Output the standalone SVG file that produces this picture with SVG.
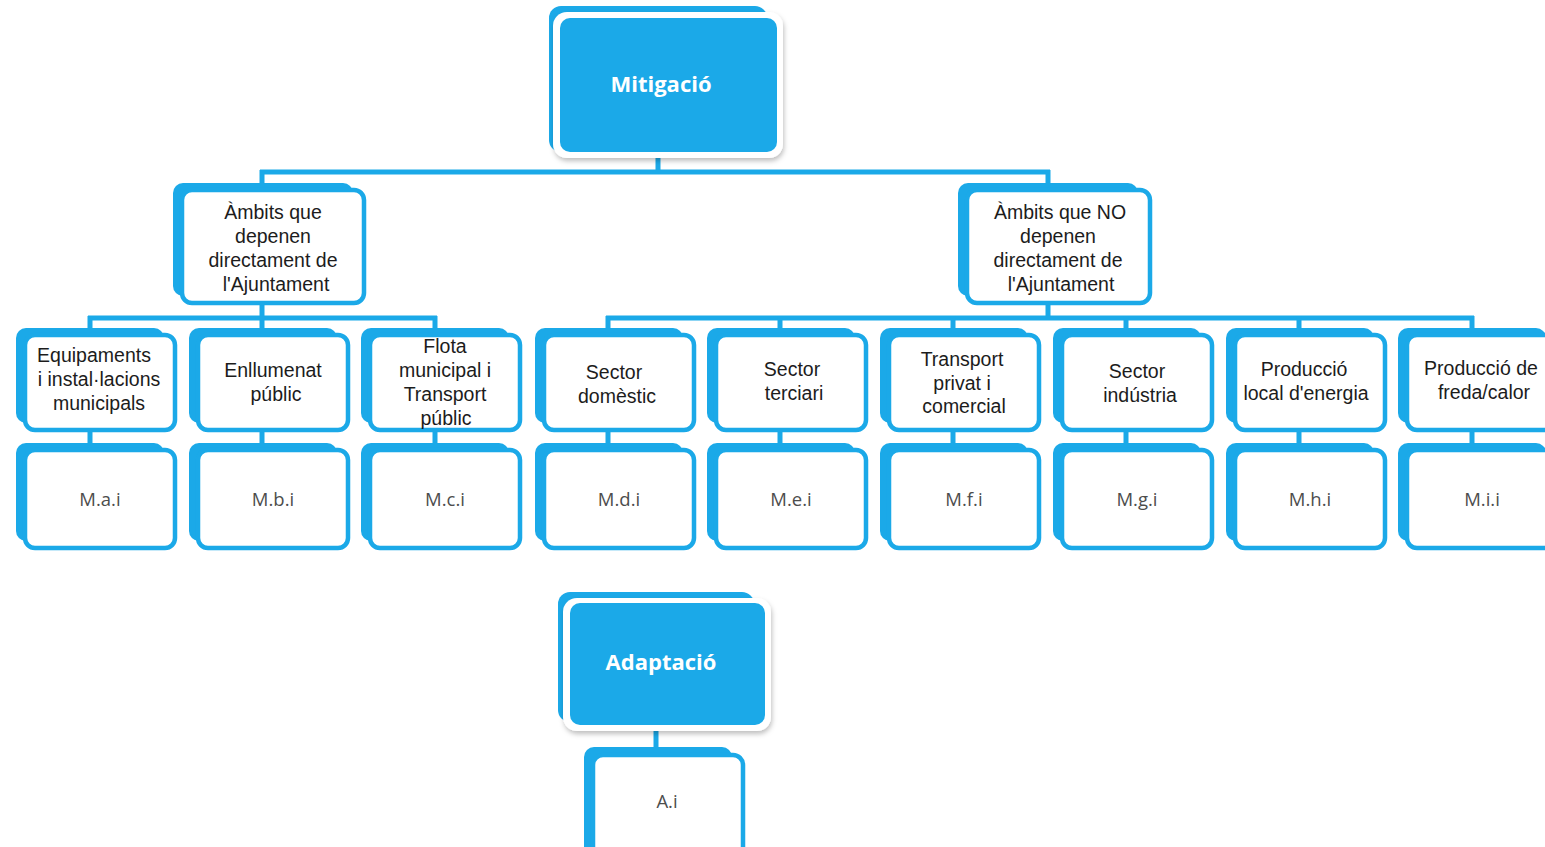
<svg xmlns="http://www.w3.org/2000/svg" width="1545" height="847" viewBox="0 0 1545 847">
<defs>
<filter id="sh" x="-10%" y="-10%" width="120%" height="125%">
<feDropShadow dx="1" dy="3" stdDeviation="2.5" flood-color="#000" flood-opacity="0.25"/>
</filter>
<style>
.back{fill:#1ba9e8}
.front{fill:#fff;stroke:#1ba9e8;stroke-width:4.5}
.root{fill:#1ba9e8}
.rootb{fill:#fff;filter:url(#sh)}
.lbl{font-family:"Liberation Sans",Arial,sans-serif;font-size:19.5px;fill:#1c1c1c;text-anchor:middle}
.code{font-family:"Open Sans","Noto Sans",sans-serif;font-size:18.5px;fill:#4d4d4d;text-anchor:middle}
.title{font-family:"Open Sans","Noto Sans",sans-serif;font-size:22px;font-weight:bold;fill:#fff;text-anchor:middle}
.con{stroke:#1ba9e8;stroke-width:5;fill:none}
</style>
</defs>
<rect width="1545" height="847" fill="#fff"/>

<g id="connectors" class="con">
<path d="M658 158V172M260 172H1050M262 170V185M1048 170V185"/>
<path d="M262 303V318M88 318H437M1048 303V318M606 318H1474"/>
<path d="M90 316V330M262 316V330M435 316V330M608 316V330M780 316V330M953 316V330M1126 316V330M1299 316V330M1472 316V330"/>
<path d="M90 430V445M262 430V445M435 430V445M608 430V445M780 430V445M953 430V445M1126 430V445M1299 430V445M1472 430V445"/>
<path d="M656 730V749"/>
</g>

<g id="mitigacio">
<rect class="back" x="549" y="6" width="218" height="146" rx="12"/>
<rect class="rootb" x="553" y="12" width="230" height="146" rx="14"/>
<rect class="root" x="560" y="18" width="217" height="134" rx="10"/>
<text class="title" x="661" y="92">Mitigació</text>
</g>

<g id="ambits-dep">
<rect class="back" x="173" y="183" width="180" height="113" rx="10"/>
<rect class="front" x="182" y="190" width="182" height="113" rx="10"/>
<text class="lbl"><tspan x="273" y="219">Àmbits que</tspan><tspan x="273" y="243">depenen</tspan><tspan x="273" y="267">directament de</tspan><tspan x="276" y="291">l'Ajuntament</tspan></text>
</g>

<g id="ambits-nodep">
<rect class="back" x="958" y="183" width="180" height="113" rx="10"/>
<rect class="front" x="967" y="190" width="183" height="113" rx="10"/>
<text class="lbl"><tspan x="1060" y="219">Àmbits que NO</tspan><tspan x="1058" y="243">depenen</tspan><tspan x="1058" y="267">directament de</tspan><tspan x="1061" y="291">l'Ajuntament</tspan></text>
</g>

<g id="cat-a">
<rect class="back" x="16" y="328" width="148" height="95" rx="10"/>
<rect class="front" x="25" y="335" width="150" height="95" rx="10"/>
<text class="lbl"><tspan x="94" y="362">Equipaments</tspan><tspan x="99" y="386">i instal·lacions</tspan><tspan x="99" y="410">municipals</tspan></text>
</g>
<g id="cat-b">
<rect class="back" x="189" y="328" width="148" height="95" rx="10"/>
<rect class="front" x="198" y="335" width="150" height="95" rx="10"/>
<text class="lbl"><tspan x="273" y="377">Enllumenat</tspan><tspan x="276" y="401">públic</tspan></text>
</g>
<g id="cat-c">
<rect class="back" x="361" y="328" width="148" height="95" rx="10"/>
<rect class="front" x="370" y="335" width="150" height="95" rx="10"/>
<text class="lbl"><tspan x="445" y="353">Flota</tspan><tspan x="445" y="377">municipal i</tspan><tspan x="445" y="401">Transport</tspan><tspan x="446" y="425">públic</tspan></text>
</g>
<g id="cat-d">
<rect class="back" x="535" y="328" width="148" height="95" rx="10"/>
<rect class="front" x="544" y="335" width="150" height="95" rx="10"/>
<text class="lbl"><tspan x="614" y="379">Sector</tspan><tspan x="617" y="403">domèstic</tspan></text>
</g>
<g id="cat-e">
<rect class="back" x="707" y="328" width="148" height="95" rx="10"/>
<rect class="front" x="716" y="335" width="150" height="95" rx="10"/>
<text class="lbl"><tspan x="792" y="376">Sector</tspan><tspan x="794" y="400">terciari</tspan></text>
</g>
<g id="cat-f">
<rect class="back" x="880" y="328" width="148" height="95" rx="10"/>
<rect class="front" x="889" y="335" width="150" height="95" rx="10"/>
<text class="lbl"><tspan x="962" y="366">Transport</tspan><tspan x="962" y="390">privat i</tspan><tspan x="964" y="413">comercial</tspan></text>
</g>
<g id="cat-g">
<rect class="back" x="1053" y="328" width="148" height="95" rx="10"/>
<rect class="front" x="1062" y="335" width="150" height="95" rx="10"/>
<text class="lbl"><tspan x="1137" y="378">Sector</tspan><tspan x="1140" y="402">indústria</tspan></text>
</g>
<g id="cat-h">
<rect class="back" x="1226" y="328" width="148" height="95" rx="10"/>
<rect class="front" x="1235" y="335" width="150" height="95" rx="10"/>
<text class="lbl"><tspan x="1304" y="376">Producció</tspan><tspan x="1306" y="400">local d'energia</tspan></text>
</g>
<g id="cat-i">
<rect class="back" x="1398" y="328" width="148" height="95" rx="10"/>
<rect class="front" x="1407" y="335" width="150" height="95" rx="10"/>
<text class="lbl"><tspan x="1481" y="375">Producció de</tspan><tspan x="1484" y="399">freda/calor</tspan></text>
</g>

<g id="m-a">
<rect class="back" x="16" y="443" width="148" height="98" rx="10"/>
<rect class="front" x="25" y="450" width="150" height="98" rx="10"/>
<text class="code" x="100" y="506">M.a.i</text>
</g>
<g id="m-b">
<rect class="back" x="189" y="443" width="148" height="98" rx="10"/>
<rect class="front" x="198" y="450" width="150" height="98" rx="10"/>
<text class="code" x="273" y="506">M.b.i</text>
</g>
<g id="m-c">
<rect class="back" x="361" y="443" width="148" height="98" rx="10"/>
<rect class="front" x="370" y="450" width="150" height="98" rx="10"/>
<text class="code" x="445" y="506">M.c.i</text>
</g>
<g id="m-d">
<rect class="back" x="535" y="443" width="148" height="98" rx="10"/>
<rect class="front" x="544" y="450" width="150" height="98" rx="10"/>
<text class="code" x="619" y="506">M.d.i</text>
</g>
<g id="m-e">
<rect class="back" x="707" y="443" width="148" height="98" rx="10"/>
<rect class="front" x="716" y="450" width="150" height="98" rx="10"/>
<text class="code" x="791" y="506">M.e.i</text>
</g>
<g id="m-f">
<rect class="back" x="880" y="443" width="148" height="98" rx="10"/>
<rect class="front" x="889" y="450" width="150" height="98" rx="10"/>
<text class="code" x="964" y="506">M.f.i</text>
</g>
<g id="m-g">
<rect class="back" x="1053" y="443" width="148" height="98" rx="10"/>
<rect class="front" x="1062" y="450" width="150" height="98" rx="10"/>
<text class="code" x="1137" y="506">M.g.i</text>
</g>
<g id="m-h">
<rect class="back" x="1226" y="443" width="148" height="98" rx="10"/>
<rect class="front" x="1235" y="450" width="150" height="98" rx="10"/>
<text class="code" x="1310" y="506">M.h.i</text>
</g>
<g id="m-i">
<rect class="back" x="1398" y="443" width="148" height="98" rx="10"/>
<rect class="front" x="1407" y="450" width="150" height="98" rx="10"/>
<text class="code" x="1482" y="506">M.i.i</text>
</g>

<g id="adaptacio">
<rect class="back" x="558" y="592" width="196" height="130" rx="12"/>
<rect class="rootb" x="563" y="598" width="208" height="133" rx="14"/>
<rect class="root" x="570" y="603" width="195" height="122" rx="10"/>
<text class="title" x="661" y="670">Adaptació</text>
</g>

<g id="a-i">
<rect class="back" x="584" y="747" width="148" height="110" rx="10"/>
<rect class="front" x="593" y="755" width="150" height="110" rx="10"/>
<text class="code" x="667" y="808">A.i</text>
</g>
</svg>
